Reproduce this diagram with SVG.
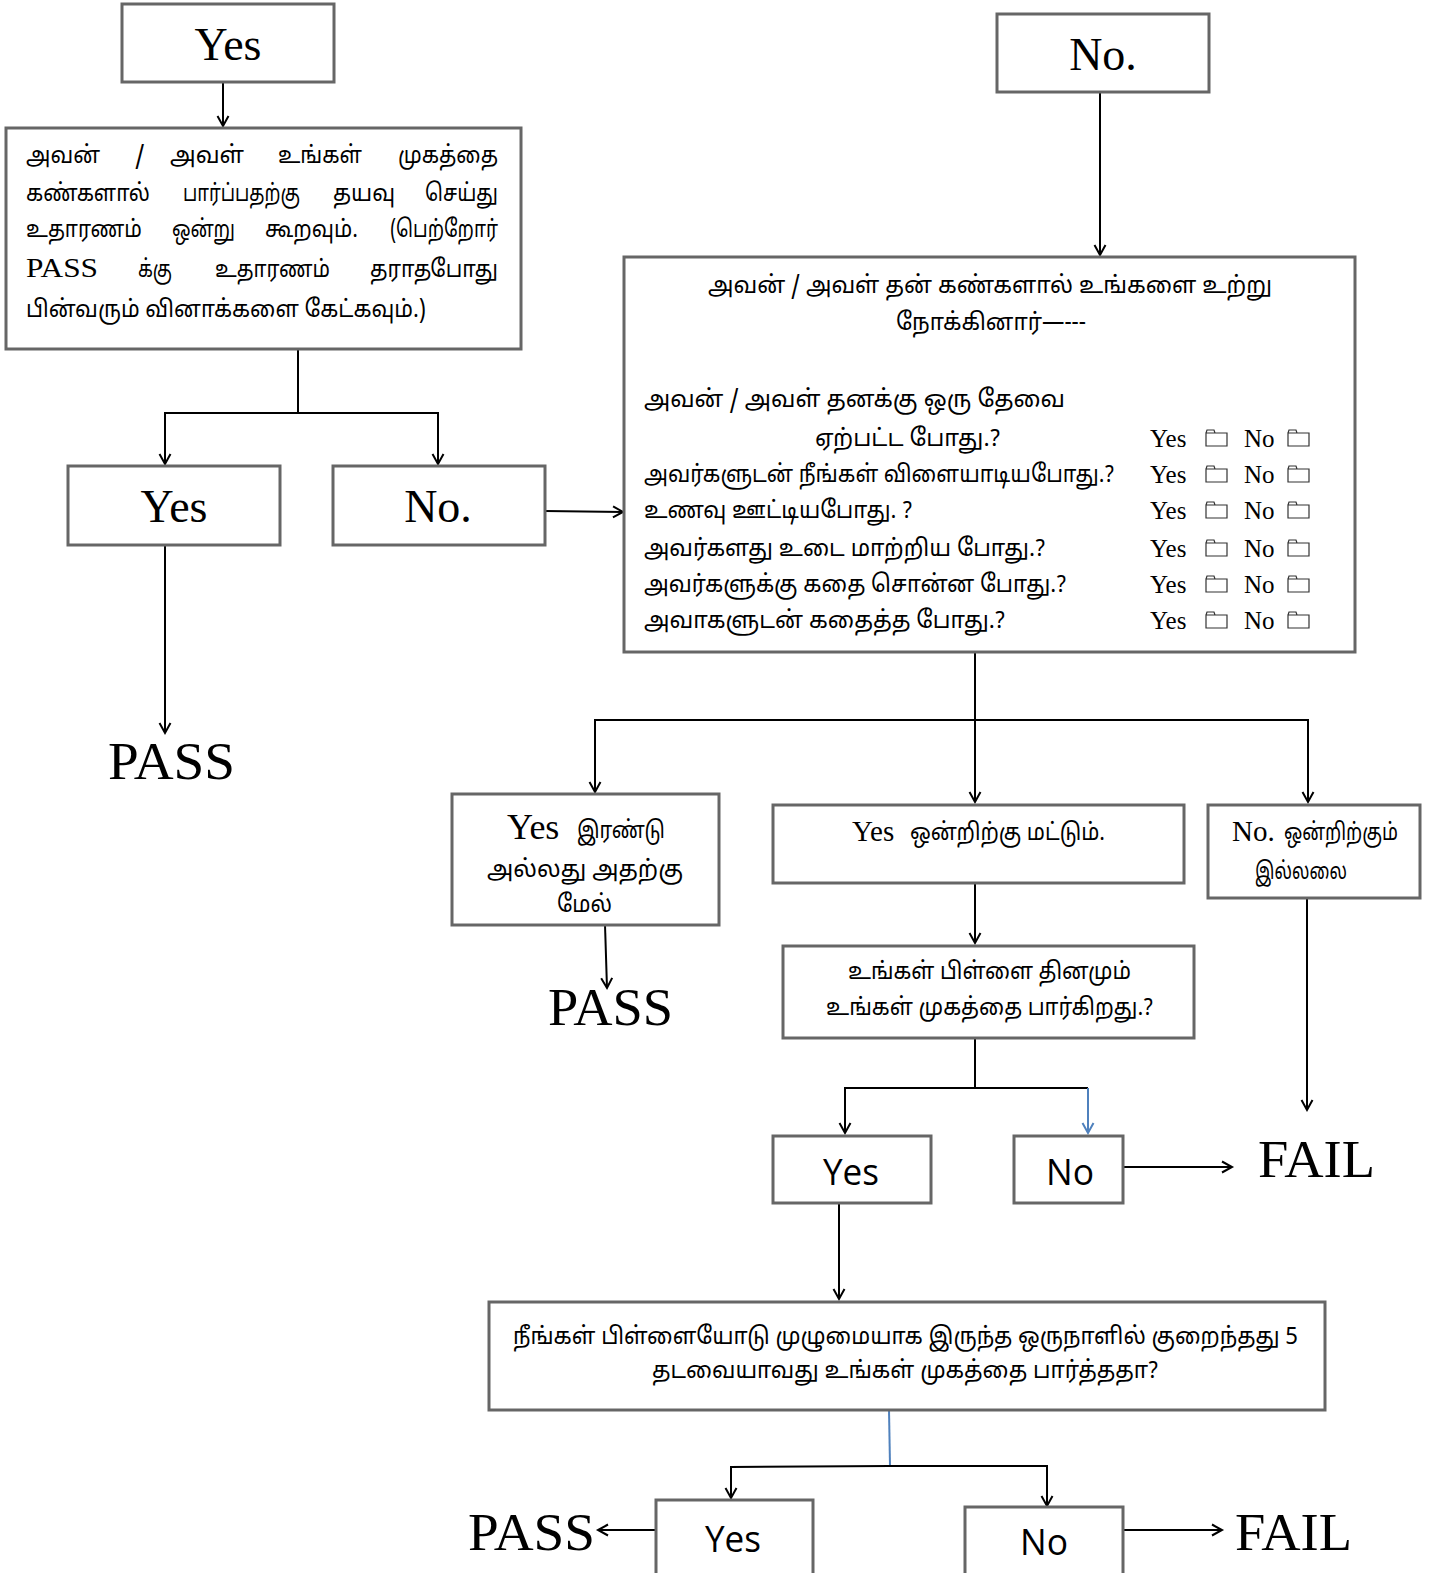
<svg xmlns="http://www.w3.org/2000/svg" width="1442" height="1573" viewBox="0 0 1442 1573">
<defs>
<style>
.box{fill:#fff;stroke:#666;stroke-width:3}
.c{fill:none;stroke:#000;stroke-width:2}
.cb{fill:none;stroke:#4f81bd;stroke-width:2}
.tm{font-family:"Liberation Serif","Times New Roman",serif;fill:#000}
.ta{font-family:"Noto Sans Tamil","Latha","Lohit Tamil","Noto Sans","Liberation Serif",serif;fill:#000;font-size:24px}
.sn{font-family:"Open Sans","Noto Sans","Liberation Sans",sans-serif;fill:#000}
.ic{fill:#fff;stroke:#333;stroke-width:1.2}
</style>
<marker id="a" markerWidth="14" markerHeight="14" refX="11" refY="7" orient="auto" markerUnits="userSpaceOnUse">
<path d="M1,1.5 L11,7 L1,12.5" fill="none" stroke="#000" stroke-width="2"/>
</marker>
<marker id="ab" markerWidth="14" markerHeight="14" refX="11" refY="7" orient="auto" markerUnits="userSpaceOnUse">
<path d="M1,1.5 L11,7 L1,12.5" fill="none" stroke="#4f81bd" stroke-width="2"/>
</marker>
<symbol id="fold" viewBox="0 0 23 18">
<path class="ic" d="M1,4 L1,17 L22,17 L22,4 Z M1,4 L2,1 L9,1 L10,4"/>
</symbol>
</defs>

<g id="connectors">
<line class="c" x1="223" y1="82" x2="223" y2="126" marker-end="url(#a)"/>
<polyline class="c" points="298,349 298,413 165,413 165,464" marker-end="url(#a)"/>
<polyline class="c" points="298,413 438,413 438,464" marker-end="url(#a)"/>
<line class="c" x1="165" y1="545" x2="165" y2="733" marker-end="url(#a)"/>
<line class="c" x1="545" y1="511" x2="623" y2="512" marker-end="url(#a)"/>
<line class="c" x1="1100" y1="92" x2="1100" y2="255" marker-end="url(#a)"/>
<polyline class="c" points="975,652 975,720 595,720 595,792" marker-end="url(#a)"/>
<line class="c" x1="975" y1="720" x2="975" y2="802" marker-end="url(#a)"/>
<polyline class="c" points="975,720 1308,720 1308,802" marker-end="url(#a)"/>
<line class="c" x1="605" y1="925" x2="607" y2="988" marker-end="url(#a)"/>
<line class="c" x1="975" y1="883" x2="975" y2="943" marker-end="url(#a)"/>
<line class="c" x1="1307" y1="898" x2="1307" y2="1110" marker-end="url(#a)"/>
<polyline class="c" points="975,1038 975,1088 845,1088 845,1133" marker-end="url(#a)"/>
<line class="c" x1="975" y1="1088" x2="1088" y2="1088"/>
<line class="cb" x1="1088" y1="1088" x2="1088" y2="1133" marker-end="url(#ab)"/>
<line class="c" x1="1123" y1="1167" x2="1232" y2="1167" marker-end="url(#a)"/>
<line class="c" x1="839" y1="1203" x2="839" y2="1299" marker-end="url(#a)"/>
<line class="cb" x1="889" y1="1410" x2="890" y2="1466"/>
<polyline class="c" points="890,1466 731,1467 731,1498" marker-end="url(#a)"/>
<polyline class="c" points="890,1466 1047,1466 1047,1506" marker-end="url(#a)"/>
<line class="c" x1="656" y1="1530" x2="598" y2="1530" marker-end="url(#a)"/>
<line class="c" x1="1123" y1="1530" x2="1222" y2="1530" marker-end="url(#a)"/>
</g>

<g id="n-yes-top">
<rect class="box" x="122" y="4" width="212" height="78"/>
<text class="tm" x="228" y="60" font-size="46" text-anchor="middle">Yes</text>
</g>

<g id="n-q1">
<rect class="box" x="6" y="128" width="515" height="221"/>
<text class="ta" y="163"><tspan x="26" textLength="74" lengthAdjust="spacingAndGlyphs">அவன்</tspan><tspan x="135">/</tspan><tspan x="170" textLength="74" lengthAdjust="spacingAndGlyphs">அவள்</tspan><tspan x="278" textLength="84" lengthAdjust="spacingAndGlyphs">உங்கள்</tspan><tspan x="398" textLength="100" lengthAdjust="spacingAndGlyphs">முகத்தை</tspan></text>
<text class="ta" y="201"><tspan x="26" textLength="124" lengthAdjust="spacingAndGlyphs">கண்களால்</tspan><tspan x="183" textLength="117" lengthAdjust="spacingAndGlyphs">பார்ப்பதற்கு</tspan><tspan x="333" textLength="62" lengthAdjust="spacingAndGlyphs">தயவு</tspan><tspan x="425" textLength="73" lengthAdjust="spacingAndGlyphs">செய்து</tspan></text>
<text class="ta" y="237"><tspan x="26" textLength="116" lengthAdjust="spacingAndGlyphs">உதாரணம்</tspan><tspan x="172" textLength="63" lengthAdjust="spacingAndGlyphs">ஒன்று</tspan><tspan x="265" textLength="93" lengthAdjust="spacingAndGlyphs">கூறவும்.</tspan><tspan x="390" textLength="108" lengthAdjust="spacingAndGlyphs">(பெற்றோர்</tspan></text>
<text class="tm" x="26" y="277" font-size="28" textLength="72" lengthAdjust="spacingAndGlyphs">PASS</text>
<text class="ta" y="277"><tspan x="138" textLength="34" lengthAdjust="spacingAndGlyphs">க்கு</tspan><tspan x="215" textLength="115" lengthAdjust="spacingAndGlyphs">உதாரணம்</tspan><tspan x="370" textLength="128" lengthAdjust="spacingAndGlyphs">தராதபோது</tspan></text>
<text class="ta" x="26" y="317" textLength="400" lengthAdjust="spacingAndGlyphs">பின்வரும் வினாக்களை கேட்கவும்.)</text>
</g>

<g id="n-yes-1">
<rect class="box" x="68" y="466" width="212" height="79"/>
<text class="tm" x="174" y="522" font-size="46" text-anchor="middle">Yes</text>
</g>

<g id="n-no-1">
<rect class="box" x="333" y="466" width="212" height="79"/>
<text class="tm" x="438" y="522" font-size="46" text-anchor="middle">No.</text>
</g>

<g id="n-pass-1">
<text class="tm" x="108" y="779" font-size="52" textLength="127" lengthAdjust="spacingAndGlyphs">PASS</text>
</g>

<g id="n-no-top">
<rect class="box" x="997" y="14" width="212" height="78"/>
<text class="tm" x="1103" y="70" font-size="46" text-anchor="middle">No.</text>
</g>

<g id="n-q2">
<rect class="box" x="624" y="257" width="731" height="395"/>
<text class="ta" x="708" y="293" textLength="564" lengthAdjust="spacingAndGlyphs">அவன் / அவள் தன் கண்களால் உங்களை உற்று</text>
<text class="ta" x="896" y="330" textLength="190" lengthAdjust="spacingAndGlyphs">நோக்கினார்—---</text>
<text class="ta" x="644" y="407" textLength="421" lengthAdjust="spacingAndGlyphs">அவன் / அவள் தனக்கு ஒரு தேவை</text>
<text class="ta" x="815" y="446" textLength="185" lengthAdjust="spacingAndGlyphs">ஏற்பட்ட போது.?</text>
<text class="ta" x="644" y="482" textLength="470" lengthAdjust="spacingAndGlyphs">அவர்களுடன் நீங்கள் விளையாடியபோது.?</text>
<text class="ta" x="644" y="518" textLength="268" lengthAdjust="spacingAndGlyphs">உணவு ஊட்டியபோது. ?</text>
<text class="ta" x="644" y="556" textLength="401" lengthAdjust="spacingAndGlyphs">அவர்களது உடை மாற்றிய போது.?</text>
<text class="ta" x="644" y="592" textLength="422" lengthAdjust="spacingAndGlyphs">அவர்களுக்கு கதை சொன்ன போது.?</text>
<text class="ta" x="644" y="628" textLength="361" lengthAdjust="spacingAndGlyphs">அவாகளுடன் கதைத்த போது.?</text>
<g class="tm" font-size="25">
<text x="1150" y="447">Yes</text><text x="1244" y="447">No</text>
<text x="1150" y="483">Yes</text><text x="1244" y="483">No</text>
<text x="1150" y="519">Yes</text><text x="1244" y="519">No</text>
<text x="1150" y="557">Yes</text><text x="1244" y="557">No</text>
<text x="1150" y="593">Yes</text><text x="1244" y="593">No</text>
<text x="1150" y="629">Yes</text><text x="1244" y="629">No</text>
</g>
<use href="#fold" x="1205" y="429" width="23" height="18"/><use href="#fold" x="1287" y="429" width="23" height="18"/>
<use href="#fold" x="1205" y="465" width="23" height="18"/><use href="#fold" x="1287" y="465" width="23" height="18"/>
<use href="#fold" x="1205" y="501" width="23" height="18"/><use href="#fold" x="1287" y="501" width="23" height="18"/>
<use href="#fold" x="1205" y="539" width="23" height="18"/><use href="#fold" x="1287" y="539" width="23" height="18"/>
<use href="#fold" x="1205" y="575" width="23" height="18"/><use href="#fold" x="1287" y="575" width="23" height="18"/>
<use href="#fold" x="1205" y="611" width="23" height="18"/><use href="#fold" x="1287" y="611" width="23" height="18"/>
</g>

<g id="n-yes-two">
<rect class="box" x="452" y="794" width="267" height="131"/>
<text class="tm" x="507" y="839" font-size="36">Yes</text>
<text class="ta" x="577" y="838" textLength="88" lengthAdjust="spacingAndGlyphs">இரண்டு</text>
<text class="ta" x="487" y="877" textLength="196" lengthAdjust="spacingAndGlyphs">அல்லது அதற்கு</text>
<text class="ta" x="557" y="912" textLength="55" lengthAdjust="spacingAndGlyphs">மேல்</text>
</g>

<g id="n-pass-2">
<text class="tm" x="548" y="1025" font-size="52" textLength="125" lengthAdjust="spacingAndGlyphs">PASS</text>
</g>

<g id="n-yes-one">
<rect class="box" x="773" y="805" width="411" height="78"/>
<text class="tm" x="852" y="841" font-size="29">Yes</text>
<text class="ta" x="910" y="840" textLength="195" lengthAdjust="spacingAndGlyphs">ஒன்றிற்கு மட்டும்.</text>
</g>

<g id="n-no-none">
<rect class="box" x="1208" y="805" width="212" height="93"/>
<text class="tm" x="1232" y="841" font-size="29">No.</text>
<text class="ta" x="1284" y="840" textLength="114" lengthAdjust="spacingAndGlyphs">ஒன்றிற்கும்</text>
<text class="ta" x="1255" y="879" textLength="92" lengthAdjust="spacingAndGlyphs">இல்லலை</text>
</g>

<g id="n-q3">
<rect class="box" x="783" y="946" width="411" height="92"/>
<text class="ta" x="848" y="979" textLength="283" lengthAdjust="spacingAndGlyphs">உங்கள் பிள்ளை தினமும்</text>
<text class="ta" x="826" y="1015" textLength="327" lengthAdjust="spacingAndGlyphs">உங்கள் முகத்தை பார்கிறது.?</text>
</g>

<g id="n-yes-3">
<rect class="box" x="773" y="1136" width="158" height="67"/>
<text class="sn" x="851" y="1185" font-size="36" text-anchor="middle" textLength="56" lengthAdjust="spacingAndGlyphs">Yes</text>
</g>

<g id="n-no-3">
<rect class="box" x="1014" y="1136" width="109" height="67"/>
<text class="sn" x="1070" y="1185" font-size="36" text-anchor="middle" textLength="48" lengthAdjust="spacingAndGlyphs">No</text>
</g>

<g id="n-fail-1">
<text class="tm" x="1258" y="1177" font-size="52" textLength="117" lengthAdjust="spacingAndGlyphs">FAIL</text>
</g>

<g id="n-q4">
<rect class="box" x="489" y="1302" width="836" height="108"/>
<text class="ta" x="513" y="1344" textLength="785" lengthAdjust="spacingAndGlyphs">நீங்கள் பிள்ளையோடு முழுமையாக இருந்த ஒருநாளில் குறைந்தது 5</text>
<text class="ta" x="652" y="1378" textLength="506" lengthAdjust="spacingAndGlyphs">தடவையாவது உங்கள் முகத்தை பார்த்ததா?</text>
</g>

<g id="n-yes-4">
<rect class="box" x="656" y="1500" width="157" height="80"/>
<text class="sn" x="733" y="1552" font-size="36" text-anchor="middle" textLength="56" lengthAdjust="spacingAndGlyphs">Yes</text>
</g>

<g id="n-no-4">
<rect class="box" x="965" y="1507" width="158" height="73"/>
<text class="sn" x="1044" y="1555" font-size="36" text-anchor="middle" textLength="48" lengthAdjust="spacingAndGlyphs">No</text>
</g>

<g id="n-pass-3">
<text class="tm" x="468" y="1550" font-size="52" textLength="127" lengthAdjust="spacingAndGlyphs">PASS</text>
</g>

<g id="n-fail-2">
<text class="tm" x="1235" y="1550" font-size="52" textLength="117" lengthAdjust="spacingAndGlyphs">FAIL</text>
</g>
</svg>
